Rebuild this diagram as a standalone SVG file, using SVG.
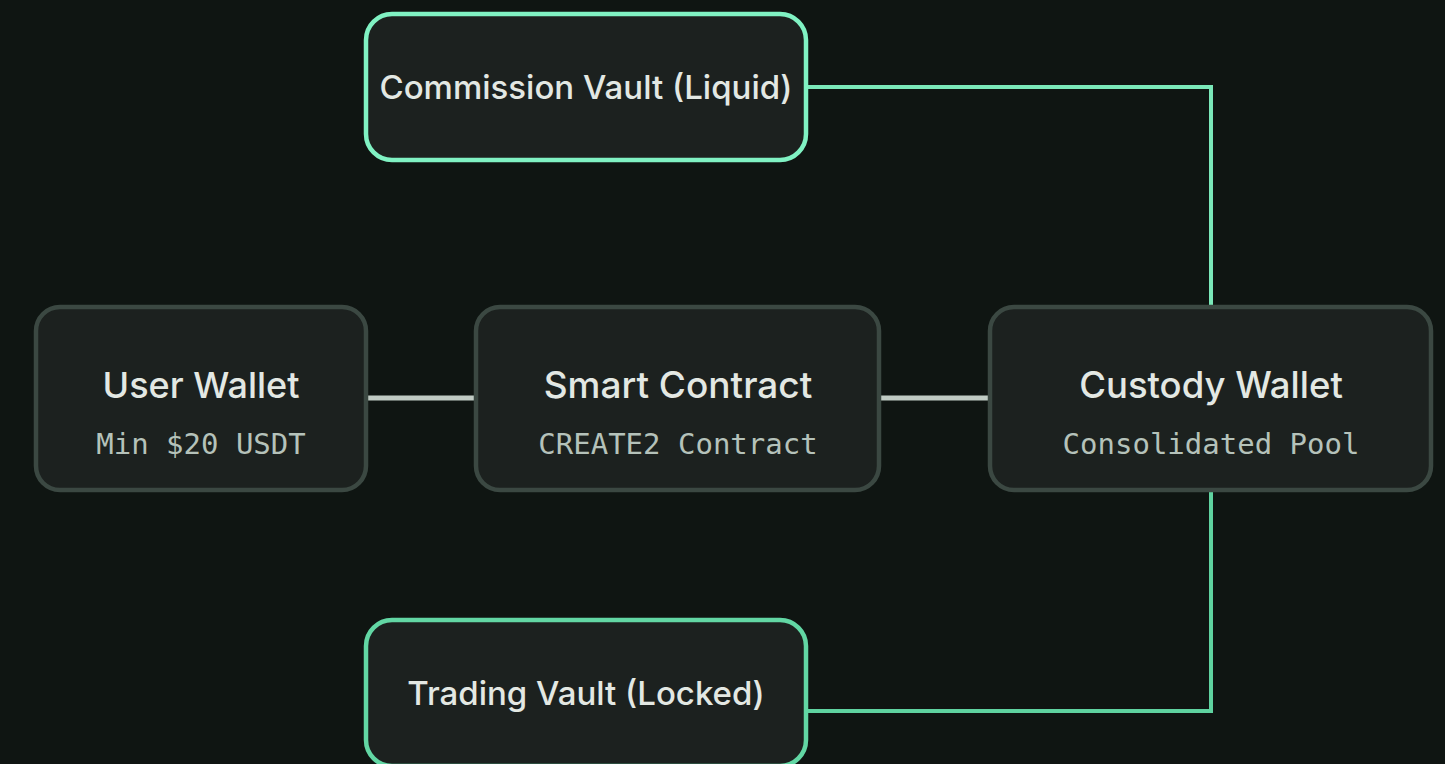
<svg xmlns="http://www.w3.org/2000/svg" width="1445" height="764" viewBox="0 0 1445 764">
<style>
.bg{fill:#0f1512}
.node{fill:#1c211f;stroke:#3b4842;stroke-width:4.5}
.vault{fill:#1c211f;stroke-width:4.5}
.title{font-family:Inter,"Liberation Sans",sans-serif;font-weight:500;fill:#e3e8e3;text-anchor:middle}
.sub{font-family:"DejaVu Sans Mono","Liberation Mono",monospace;font-size:29px;fill:#b5c2ba;text-anchor:middle}
.grey{stroke:#c0cbc4;stroke-width:5;fill:none}
.mint{stroke-width:4;fill:none}
</style>
<rect class="bg" x="0" y="0" width="1445" height="764"/>
<g id="connectors">
<line class="grey" x1="367" y1="398" x2="475" y2="398"/>
<line class="grey" x1="880" y1="398" x2="989" y2="398"/>
<polyline class="mint" stroke="#7ae8b9" points="807,87 1211,87 1211,306"/>
<polyline class="mint" stroke="#5fd3a0" points="1211,491 1211,711 807,711"/>
</g>
<g id="commission-vault">
<rect class="vault" stroke="#80f2c3" x="366" y="14" width="440" height="146" rx="26"/>
<text class="title" x="586" y="99" font-size="33">Commission Vault (Liquid)</text>
</g>
<g id="user-wallet">
<rect class="node" x="36" y="307" width="330" height="183" rx="24"/>
<text class="title" x="201" y="398" font-size="36">User Wallet</text>
<text class="sub" x="201" y="454">Min $20 USDT</text>
</g>
<g id="smart-contract">
<rect class="node" x="476" y="307" width="403" height="183" rx="24"/>
<text class="title" x="678" y="398" font-size="37">Smart Contract</text>
<text class="sub" x="678" y="454">CREATE2 Contract</text>
</g>
<g id="custody-wallet">
<rect class="node" x="990" y="307" width="441" height="183" rx="24"/>
<text class="title" x="1211" y="398" font-size="36.5">Custody Wallet</text>
<text class="sub" x="1211" y="454">Consolidated Pool</text>
</g>
<g id="trading-vault">
<rect class="vault" stroke="#62d7a4" x="366" y="620" width="440" height="146" rx="26"/>
<text class="title" x="586" y="705" font-size="33">Trading Vault (Locked)</text>
</g>
</svg>
